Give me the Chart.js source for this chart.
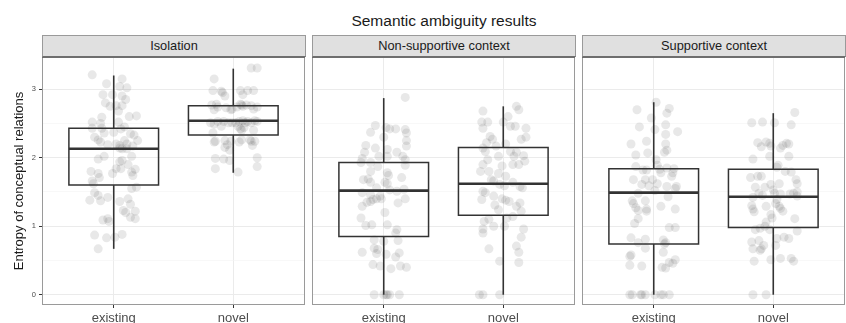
<!DOCTYPE html>
<html>
<head>
<meta charset="utf-8">
<script src="https://cdn.jsdelivr.net/npm/chart.js@4.4.0/dist/chart.umd.min.js"></script>
<style>
  body { margin: 0; background: #fff; font-family: "Liberation Sans", Arial, sans-serif; }
  #wrap { position: relative; width: 846px; height: 323px; overflow: hidden; }
  .title { position: absolute; left: 42px; width: 804px; top: 11px; line-height: 20px; text-align: center; font-size: 15.5px; color: #1a1a1a; }
  .strip { position: absolute; top: 35px; height: 22px; box-sizing: border-box; background: #e0e0e0; border: 1px solid #9a9a9a; border-bottom: 1px solid #6e6e6e; text-align: center; line-height: 20px; font-size: 12.8px; color: #1a1a1a; }
  canvas { position: absolute; top: 57px; }
</style>
</head>
<body>
<div id="wrap">
  <div class="title">Semantic ambiguity results</div>
  <div class="strip" style="left:42px;width:264px">Isolation</div>
  <div class="strip" style="left:312px;width:264px">Non-supportive context</div>
  <div class="strip" style="left:582px;width:264px">Supportive context</div>
  <canvas id="p0" width="306" height="266" style="left:0px"></canvas>
  <canvas id="p1" width="264" height="266" style="left:312px"></canvas>
  <canvas id="p2" width="264" height="266" style="left:582px"></canvas>
</div>
<script>
const facets = ["Isolation", "Non-supportive context", "Supportive context"];
const conditions = ["existing", "novel"];

// box summaries, per facet: [existing, novel]
const whiskerLow = [[0.67, 1.78], [0, 0], [0, 0]];
const boxQ1 = [[1.60, 2.33], [0.85, 1.16], [0.74, 0.98]];
const boxMedian = [[2.13, 2.54], [1.52, 1.62], [1.49, 1.43]];
const boxQ3 = [[2.43, 2.76], [1.93, 2.15], [1.84, 1.83]];
const whiskerHigh = [[3.20, 3.30], [2.87, 2.75], [2.81, 2.65]];

const yBreaks = [0, 0.5, 1, 1.5, 2, 2.5, 3];

// jittered observations: y value and horizontal jitter around the category
const isoExistingY = [3.21, 3.08, 3.15, 3.04, 3.02, 2.92, 2.92, 2.90, 2.85, 2.80,
  2.75, 2.76, 2.76, 2.68, 2.59, 2.60, 2.61, 2.52, 2.50, 2.52,
  2.43, 2.43, 2.42, 2.45, 2.36, 2.37, 2.35, 2.33, 2.30, 2.26,
  2.23, 2.19, 2.20, 2.18, 2.25, 2.20, 2.25, 2.14, 2.13, 2.13,
  2.17, 1.98, 2.02, 1.96, 1.94, 2.02, 1.90, 1.83, 1.80, 1.77,
  1.71, 1.77, 1.84, 1.84, 1.79, 1.74, 1.66, 1.62, 1.55, 1.57,
  1.49, 1.45, 1.42, 1.38, 1.37, 1.36, 1.40, 1.32, 1.23, 1.20,
  1.22, 1.13, 1.11, 1.09, 1.11, 1.07, 0.87, 0.83, 0.84, 0.88,
  0.67];
const isoExistingJit = [-0.18, -0.06, 0.07, 0.05, 0.11, -0.09, -0.01, 0.07, 0.10, -0.07,
  -0.03, 0.02, 0.07, 0.04, -0.10, 0.13, 0.19, -0.18, -0.11, 0.04,
  -0.18, -0.10, 0.06, 0.09, -0.08, 0.00, 0.14, 0.17, -0.16, -0.13,
  -0.11, -0.05, 0.02, 0.05, 0.09, 0.11, 0.20, 0.05, 0.07, 0.11,
  0.16, -0.13, -0.08, 0.07, 0.05, 0.15, 0.12, 0.18, -0.19, -0.13,
  -0.12, -0.01, 0.02, 0.06, 0.15, 0.16, -0.18, -0.17, 0.15, 0.19,
  -0.16, -0.13, -0.05, -0.20, -0.11, 0.05, 0.12, 0.14, 0.08, 0.10,
  0.18, 0.14, 0.18, -0.09, -0.05, -0.04, -0.16, -0.06, 0.01, 0.07,
  -0.13];

const isoNovelY = [3.31, 3.31, 3.15, 2.98, 2.97, 2.95, 2.90, 2.98, 2.92, 2.98,
  2.98, 2.77, 2.78, 2.74, 2.70, 2.73, 2.70, 2.71, 2.74, 2.78,
  2.77, 2.75, 2.77, 2.76, 2.71, 2.74, 2.51, 2.49, 2.53, 2.46,
  2.53, 2.51, 2.51, 2.51, 2.53, 2.54, 2.51, 2.53, 2.51, 2.54,
  2.53, 2.46, 2.42, 2.40, 2.44, 2.40, 2.36, 2.23, 2.24, 2.25,
  2.19, 2.15, 2.11, 2.24, 2.23, 2.26, 2.26, 2.24, 2.18, 2.24,
  1.99, 1.98, 1.96, 2.00, 1.84, 1.79, 1.87];
const isoNovelJit = [0.15, 0.20, -0.16, -0.17, -0.10, -0.09, -0.07, 0.06, 0.08, 0.12,
  0.17, -0.18, -0.14, -0.13, -0.16, -0.06, -0.02, -0.01, 0.03, 0.06,
  0.07, 0.08, 0.11, 0.15, 0.17, 0.20, -0.19, -0.16, -0.13, -0.10,
  -0.08, -0.04, -0.01, 0.02, 0.05, 0.08, 0.10, 0.12, 0.15, 0.18,
  0.20, 0.04, 0.06, 0.07, 0.09, 0.17, -0.17, -0.16, -0.15, -0.07,
  -0.05, -0.07, -0.03, -0.02, 0.05, 0.07, 0.14, 0.15, 0.16, 0.18,
  -0.15, -0.08, -0.03, 0.20, -0.15, 0.04, 0.20];

const nonExistingY = [2.88, 2.47, 2.44, 2.42, 2.42, 2.37, 2.41, 2.36, 2.30, 2.25,
  2.18, 2.14, 2.17, 2.12, 2.08, 1.99, 1.93, 1.93, 2.02, 2.02,
  2.08, 2.02, 1.97, 1.89, 1.87, 1.80, 1.78, 1.74, 1.71, 1.68,
  1.69, 1.64, 1.64, 1.62, 1.56, 1.53, 1.51, 1.54, 1.49, 1.46,
  1.44, 1.29, 1.35, 1.36, 1.39, 1.40, 1.40, 1.34, 1.40, 1.12,
  1.01, 1.02, 1.20, 1.02, 0.95, 0.90, 0.78, 0.80, 0.79, 0.68,
  0.66, 0.62, 0.60, 0.59, 0.55, 0.61, 0.44, 0.42, 0.38, 0.42,
  0.40, 0, 0, 0, 0, 0, 0];
const nonExistingJit = [0.18, -0.07, 0.02, 0.05, 0.10, -0.11, 0.18, 0.19, 0.00, 0.19,
  -0.15, -0.07, 0.19, 0.03, -0.16, -0.18, -0.19, -0.11, -0.04, 0.03,
  0.11, 0.16, 0.18, 0.18, -0.05, -0.11, 0.03, 0.04, 0.15, -0.17,
  -0.13, -0.11, 0.01, 0.03, -0.06, 0.05, 0.11, 0.17, -0.18, -0.11,
  -0.03, -0.18, -0.14, -0.11, -0.09, -0.06, -0.02, 0.12, 0.18, -0.19,
  -0.15, -0.10, 0.01, 0.03, 0.11, 0.10, 0.00, -0.08, 0.12, -0.08,
  -0.05, -0.18, -0.06, 0.02, 0.10, 0.13, -0.09, -0.03, 0.06, 0.14,
  0.19, -0.08, 0.00, 0.02, 0.03, 0.05, 0.13];

const nonNovelY = [2.75, 2.70, 2.68, 2.60, 2.52, 2.52, 2.52, 2.46, 2.46, 2.43,
  2.43, 2.31, 2.27, 2.22, 2.20, 2.27, 2.30, 2.17, 2.14, 2.09,
  2.09, 2.08, 2.03, 2.02, 2.02, 1.97, 1.90, 1.88, 1.95, 1.90,
  1.90, 1.80, 1.80, 1.77, 1.73, 1.68, 1.66, 1.61, 1.59, 1.64,
  1.58, 1.56, 1.51, 1.49, 1.44, 1.40, 1.38, 1.36, 1.34, 1.39,
  1.31, 1.24, 1.29, 1.22, 1.14, 1.12, 1.07, 1.10, 1.00, 1.00,
  0.96, 0.90, 0.96, 0.84, 0.71, 0.67, 0.62, 0.49, 0.47, 0,
  0, 0];
const nonNovelJit = [0.11, 0.13, -0.17, 0.04, -0.18, -0.13, 0.00, 0.06, 0.10, 0.19,
  -0.17, -0.11, -0.09, -0.14, 0.02, 0.15, 0.19, -0.06, -0.17, -0.15,
  0.06, 0.11, 0.17, -0.04, 0.09, -0.13, -0.17, -0.01, 0.18, 0.13,
  0.08, -0.19, -0.12, -0.04, 0.02, -0.10, -0.08, -0.03, 0.01, 0.08,
  0.14, 0.16, -0.17, -0.15, -0.08, -0.01, 0.02, 0.05, 0.14, -0.18,
  -0.07, -0.04, 0.11, 0.15, 0.08, 0.03, -0.16, -0.12, -0.08, 0.01,
  -0.17, -0.17, 0.17, 0.15, 0.11, -0.12, 0.13, -0.03, 0.13, -0.20,
  -0.17, -0.03];

const supExistingY = [2.81, 2.70, 2.72, 2.65, 2.58, 2.45, 2.48, 2.41, 2.38, 2.34,
  2.20, 2.24, 2.20, 2.04, 2.07, 2.08, 2.11, 1.97, 1.89, 1.87,
  1.82, 1.82, 1.83, 1.85, 1.84, 1.78, 1.68, 1.68, 1.68, 1.78,
  1.73, 1.61, 1.59, 1.62, 1.58, 1.58, 1.55, 1.48, 1.52, 1.43,
  1.37, 1.37, 1.33, 1.27, 1.25, 1.23, 1.29, 1.25, 1.22, 1.11,
  1.04, 0.98, 0.98, 0.83, 0.76, 0.81, 0.80, 0.76, 0.74, 0.68,
  0.58, 0.56, 0.62, 0.47, 0.46, 0.51, 0.43, 0.42, 0.40, 0.39,
  0, 0, 0, 0, 0, 0, 0, 0, 0];
const supExistingJit = [0.02, -0.14, 0.13, 0.11, -0.02, -0.12, 0.10, 0.01, 0.20, 0.10,
  -0.19, -0.06, 0.10, -0.15, -0.05, 0.09, 0.11, 0.02, 0.03, -0.15,
  -0.09, -0.06, 0.05, 0.11, 0.17, 0.16, -0.17, -0.07, -0.01, 0.06,
  0.15, -0.10, -0.04, 0.03, 0.11, 0.19, 0.18, -0.13, 0.01, 0.12,
  -0.18, -0.07, -0.17, -0.15, -0.06, -0.13, 0.06, 0.18, -0.06, -0.13,
  -0.16, 0.13, 0.18, -0.19, -0.13, -0.07, 0.08, 0.10, 0.09, -0.07,
  -0.19, -0.20, 0.08, 0.13, 0.16, 0.18, -0.20, -0.10, 0.07, 0.10,
  -0.20, -0.18, -0.11, -0.10, -0.07, 0.01, 0.06, 0.08, 0.13];

const supNovelY = [2.66, 2.51, 2.52, 2.51, 2.48, 2.22, 2.23, 2.21, 2.16, 2.17,
  2.18, 2.21, 2.20, 2.14, 2.02, 2.02, 1.98, 1.89, 1.86, 1.80,
  1.79, 1.71, 1.73, 1.73, 1.57, 1.61, 1.62, 1.68, 1.62, 1.57,
  1.48, 1.45, 1.53, 1.48, 1.47, 1.47, 1.48, 1.44, 1.50, 1.42,
  1.39, 1.30, 1.25, 1.21, 1.29, 1.33, 1.29, 1.22, 1.26, 1.17,
  1.12, 1.06, 1.11, 0.95, 0.97, 1.00, 0.95, 0.93, 0.82, 0.84,
  0.82, 0.77, 0.79, 0.72, 0.72, 0.67, 0.67, 0.65, 0.51, 0.53,
  0.53, 0.49, 0.49, 0, 0];
const supNovelJit = [0.18, -0.18, -0.09, 0.01, 0.15, -0.13, -0.06, -0.03, -0.10, -0.02,
  0.08, 0.11, 0.13, 0.06, -0.03, 0.13, -0.17, 0.04, 0.03, 0.10,
  0.15, -0.19, -0.13, -0.10, -0.07, -0.02, 0.05, 0.19, 0.20, -0.15,
  -0.12, -0.09, 0.00, 0.01, 0.06, 0.14, 0.17, 0.20, 0.20, -0.17,
  0.03, -0.18, -0.17, -0.16, -0.06, 0.02, 0.05, 0.08, 0.06, -0.02,
  -0.01, -0.06, 0.18, -0.15, -0.11, -0.07, -0.03, 0.20, 0.03, 0.09,
  0.13, -0.18, -0.12, -0.08, 0.02, -0.17, -0.10, -0.11, -0.02, 0.06,
  0.15, 0.17, -0.16, -0.17, -0.06];

const pointsY = [[isoExistingY, isoNovelY], [nonExistingY, nonNovelY], [supExistingY, supNovelY]];
const pointsJit = [[isoExistingJit, isoNovelJit], [nonExistingJit, nonNovelJit], [supExistingJit, supNovelJit]];

const BOX_WIDTH = 0.75;
const LINE = "#333333";

Chart.defaults.font.family = '"Liberation Sans", Arial, sans-serif';

// ggplot-like panel frame, drawn over everything
const panelBorder = {
    id: "panelBorder",
    afterDraw(chart) {
        const {ctx, chartArea: a} = chart;
        ctx.save();
        ctx.strokeStyle = "#9a9a9a";
        ctx.lineWidth = 1;
        ctx.strokeRect(a.left + 0.5, a.top + 0.5, a.right - a.left - 1, a.bottom - a.top - 1);
        ctx.strokeStyle = "#6e6e6e";
        ctx.beginPath();
        ctx.moveTo(a.left, a.top + 0.5);
        ctx.lineTo(a.right, a.top + 0.5);
        ctx.stroke();
        ctx.restore();
    }
};

// fixed axis boxes so every panel lines up with the strips
function fixBox(size) {
    return s => {
        if (s.isHorizontal()) s.height = size; else s.width = size;
        s.paddingTop = 0; s.paddingBottom = 0; s.paddingLeft = 0; s.paddingRight = 0;
    };
}

function lineSet(points, width) {
    return {
        type: "line", data: points, borderColor: LINE, borderWidth: width,
        pointRadius: 0, fill: false, order: 1,
        borderCapStyle: "butt", borderJoinStyle: "miter"
    };
}

function panelDatasets(f) {
    let ds = [];
    conditions.forEach((c, i) => {
        ds.push({
            type: "scatter",
            data: pointsY[f][i].map((y, k) => ({x: i + 1 + pointsJit[f][i][k], y: y})),
            pointRadius: 4.5,
            backgroundColor: "rgba(50,50,50,0.11)",
            borderWidth: 0,
            order: 3
        });
    });
    conditions.forEach((c, i) => {
        const cx = i + 1, lo = cx - BOX_WIDTH / 2, hi = cx + BOX_WIDTH / 2;
        const q1 = boxQ1[f][i], q3 = boxQ3[f][i];
        ds.push(lineSet([{x: cx, y: q1}, {x: hi, y: q1}, {x: hi, y: q3}, {x: lo, y: q3}, {x: lo, y: q1}, {x: cx, y: q1}], 1.5));
        ds.push(lineSet([{x: cx, y: whiskerLow[f][i]}, {x: cx, y: q1}], 1.6));
        ds.push(lineSet([{x: cx, y: q3}, {x: cx, y: whiskerHigh[f][i]}], 1.6));
        ds.push(lineSet([{x: lo, y: boxMedian[f][i]}, {x: hi, y: boxMedian[f][i]}], 2.6));
    });
    return ds;
}

function makePanel(f) {
    const showY = f === 0;
    const isMinor = v => !Number.isInteger(v);
    new Chart(document.getElementById("p" + f).getContext("2d"), {
        type: "scatter",
        data: {datasets: panelDatasets(f)},
        options: {
            responsive: false,
            animation: false,
            events: [],
            layout: {autoPadding: false, padding: {left: 0, right: 1, top: 0, bottom: 0}},
            plugins: {legend: {display: false}, tooltip: {enabled: false}},
            scales: {
                x: {
                    type: "linear", min: 0.4, max: 2.6, offset: false,
                    afterBuildTicks: s => { s.ticks = conditions.map((c, i) => ({value: i + 1})); },
                    afterFit: fixBox(18),
                    ticks: {
                        callback: v => conditions[Math.round(v) - 1],
                        font: {size: 13}, color: "#4d4d4d", padding: 2.5,
                        autoSkip: false, maxRotation: 0
                    },
                    grid: {color: "#ebebeb", lineWidth: 1, tickColor: LINE, tickLength: 3, tickWidth: 1, offset: false},
                    border: {display: false}
                },
                y: {
                    type: "linear", min: -0.15, max: 3.47,
                    afterBuildTicks: s => { s.ticks = yBreaks.map(v => ({value: v})); },
                    afterFit: fixBox(showY ? 42 : 0),
                    ticks: {
                        display: showY,
                        callback: v => isMinor(v) ? "" : String(v),
                        font: {size: 7.5}, color: "#4d4d4d", padding: 3
                    },
                    grid: {
                        color: ctx => isMinor(ctx.tick.value) ? "#f3f3f3" : "#ebebeb",
                        lineWidth: ctx => isMinor(ctx.tick.value) ? 0.6 : 1,
                        tickColor: ctx => isMinor(ctx.tick.value) ? "rgba(0,0,0,0)" : LINE,
                        tickLength: 3, tickWidth: 1,
                        drawTicks: showY
                    },
                    border: {display: false},
                    title: {
                        display: showY, text: "Entropy of conceptual relations",
                        font: {size: 13}, color: "#1a1a1a", padding: {top: 12, bottom: 0}
                    }
                }
            }
        },
        plugins: [panelBorder]
    });
}

facets.forEach((name, f) => makePanel(f));
</script>
</body>
</html>
